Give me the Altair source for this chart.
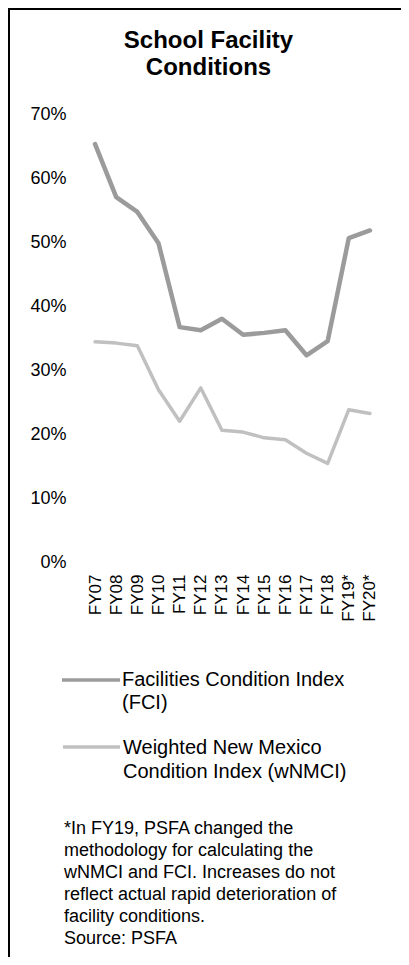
import altair as alt
import pandas as pd

years = ["FY07", "FY08", "FY09", "FY10", "FY11", "FY12", "FY13",
         "FY14", "FY15", "FY16", "FY17", "FY18", "FY19*", "FY20*"]
fci = [65.3, 57.0, 54.7, 49.8, 36.7, 36.2, 38.0, 35.5, 35.8, 36.2, 32.3, 34.5, 50.6, 51.8]
wnmci = [34.4, 34.2, 33.8, 26.9, 22.0, 27.2, 20.6, 20.3, 19.4, 19.1, 17.0, 15.4, 23.8, 23.2]
series = ["Facilities Condition Index (FCI)", "Weighted New Mexico Condition Index (wNMCI)"]
series_colors = ["#9b9b9b", "#c0c0c0"]
y_ticks = [0, 10, 20, 30, 40, 50, 60, 70]
title_lines = ["School Facility", "Conditions"]
legend_fci = ["Facilities Condition Index", "(FCI)"]
legend_wnmci = ["Weighted New Mexico", "Condition Index (wNMCI)"]
footnote = [
    "*In FY19, PSFA changed the",
    "methodology for calculating the",
    "wNMCI and FCI. Increases do not",
    "reflect actual rapid deterioration of",
    "facility conditions.",
    "Source: PSFA",
]

FONT = "Liberation Sans"

df = pd.DataFrame({
    "year": years * 2,
    "series": [series[0]] * len(years) + [series[1]] * len(years),
    "value": fci + wnmci,
})
one = pd.DataFrame({"k": [0]})

W, H = 296, 448
PAD = {"left": 76.5, "top": 106, "right": 393 - 76.5 - W, "bottom": 949 - 106 - H}

lines = alt.Chart(df).mark_line(strokeJoin="round", strokeCap="round").encode(
    x=alt.X("year:N", sort=years, title=None,
            scale=alt.Scale(type="point", padding=0.5),
            axis=alt.Axis(labelAngle=270, domain=False, ticks=False, grid=False,
                          labelPadding=12, labelFont=FONT, labelFontSize=17,
                          labelColor="black", labelOverlap=False)),
    y=alt.Y("value:Q", title=None,
            scale=alt.Scale(domain=[0, 70]),
            axis=alt.Axis(values=y_ticks, labelExpr="datum.value + '%'",
                          domain=False, ticks=False, grid=False,
                          labelPadding=18.5, labelFont=FONT, labelFontSize=18,
                          labelColor="black")),
    color=alt.Color("series:N", scale=alt.Scale(domain=series, range=series_colors), legend=None),
    strokeWidth=alt.StrokeWidth("series:N", scale=alt.Scale(domain=series, range=[4.5, 3.5]), legend=None),
)

border_left = alt.Chart(one).mark_rule(color="black", strokeWidth=2).encode(
    x=alt.value(-75.5), y=alt.value(-105), y2=alt.value(H + PAD["bottom"]))
border_top = alt.Chart(one).mark_rule(color="black", strokeWidth=2).encode(
    x=alt.value(-76.5), x2=alt.value(W + PAD["right"]), y=alt.value(-105))

txt_title = alt.Chart(one).mark_text(align="center", baseline="alphabetic", font=FONT,
                                     fontSize=24, fontWeight="bold", lineHeight=27,
                                     color="black").encode(
    x=alt.value(124), y=alt.value(-66), text=alt.value(title_lines))

sw_fci = alt.Chart(one).mark_rule(color=series_colors[0], strokeWidth=3.5).encode(
    x=alt.value(-22.5), x2=alt.value(35.5), y=alt.value(566))
sw_wnmci = alt.Chart(one).mark_rule(color=series_colors[1], strokeWidth=3.5).encode(
    x=alt.value(-21.5), x2=alt.value(35.5), y=alt.value(633))

txt_fci = alt.Chart(one).mark_text(align="left", baseline="alphabetic", font=FONT,
                                   fontSize=20, lineHeight=23, color="black").encode(
    x=alt.value(37.5), y=alt.value(572), text=alt.value(legend_fci))
txt_wnmci = alt.Chart(one).mark_text(align="left", baseline="alphabetic", font=FONT,
                                     fontSize=20, lineHeight=24, color="black").encode(
    x=alt.value(38.5), y=alt.value(640), text=alt.value(legend_wnmci))
txt_note = alt.Chart(one).mark_text(align="left", baseline="alphabetic", font=FONT,
                                    fontSize=18, lineHeight=22, color="black").encode(
    x=alt.value(-20.5), y=alt.value(719.5), text=alt.value(footnote))

chart = alt.layer(
    border_left, border_top, txt_title, lines, sw_fci, sw_wnmci, txt_fci, txt_wnmci, txt_note
).properties(
    width=W, height=H,
    padding=PAD,
    autosize=alt.AutoSizeParams(type="none"),
    background="white",
).configure_view(stroke=None)

chart.save("out.html", embed_options={"renderer": "svg", "actions": False})
